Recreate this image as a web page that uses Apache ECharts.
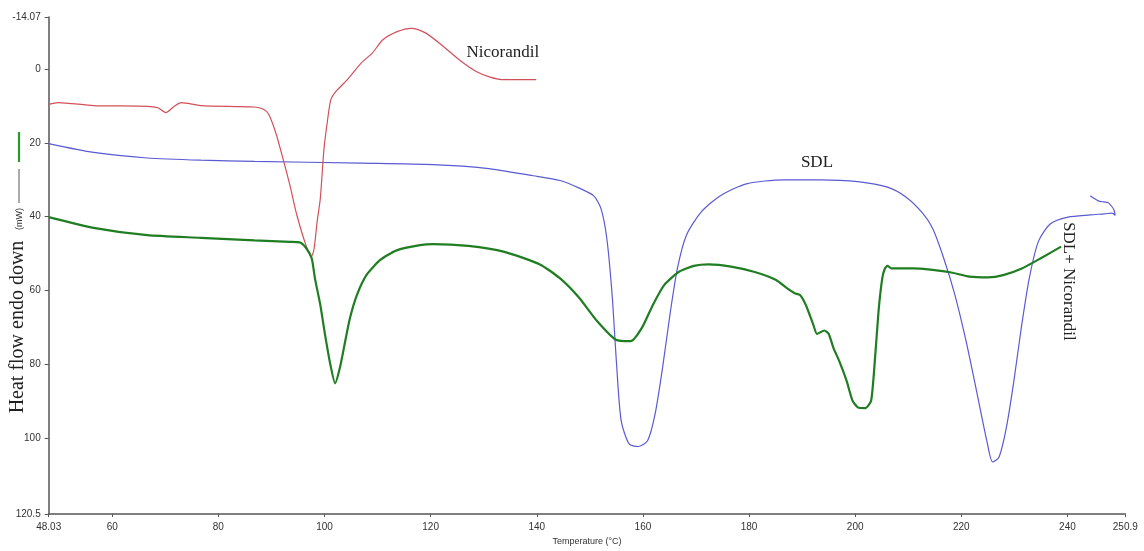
<!DOCTYPE html>
<html>
<head>
<meta charset="utf-8">
<title>DSC thermograms</title>
<script src="https://cdn.jsdelivr.net/npm/echarts@6/dist/echarts.min.js"></script>
<style>
  html, body { margin: 0; padding: 0; background: #fff; }
  #chart { width: 1144px; height: 551px; }
</style>
</head>
<body>
<div id="chart"></div>
<script>
// Axis tick positions (temperature in °C, heat flow in mW)
const xTicks = [48.03, 60, 80, 100, 120, 140, 160, 180, 200, 220, 240, 250.9];
const yTicks = [-14.07, 0, 20, 40, 60, 80, 100, 120.5];

// Nicorandil trace
const nicoTemp = [48.03, 49.8, 56.5, 66.6, 68.6, 70.1, 71.6, 73.0, 76.7, 86.8, 88.5, 89.5, 90.8, 92.2, 93.5, 94.8, 96.5, 97.5, 98.0, 98.6, 99.2, 99.9, 100.6, 101.2, 102.2, 104.3, 106.9, 109.0, 111.0, 113.7, 116.4, 119.1, 122.4, 125.8, 128.5, 131.2, 133.9, 139.9];
const nicoFlow = [9.6, 9.1, 9.9, 10.1, 10.5, 11.8, 10.2, 9.1, 9.9, 10.3, 10.9, 12.3, 17.2, 24.4, 31.6, 39.6, 47.7, 50.8, 49.0, 41.5, 35.2, 21.7, 13.6, 8.3, 6.0, 2.9, -1.6, -4.3, -7.9, -10.1, -11.0, -9.7, -6.1, -2.0, 0.6, 2.2, 2.9, 2.9];

// SDL trace (ends with a short return sweep)
const sdlTemp = [48.03, 56.5, 66.6, 76.7, 86.8, 106.9, 120.4, 130.5, 139.3, 144.4, 147.9, 150.7, 152.1, 153.2, 154.2, 155.0, 155.9, 157.4, 159.1, 160.9, 162.3, 163.7, 165.1, 166.5, 168.2, 171.0, 174.6, 179.5, 186.5, 193.5, 200.5, 206.1, 209.6, 212.5, 214.6, 216.7, 218.8, 220.9, 223.0, 224.8, 225.9, 227.1, 228.5, 229.9, 231.3, 232.8, 234.5, 236.8, 240.1, 244.3, 247.0, 248.4, 249.0, 248.8, 248.4, 247.7, 246.8, 245.8, 244.9, 244.3];
const sdlFlow = [20.2, 22.6, 24.1, 24.7, 25.0, 25.5, 25.9, 26.9, 28.9, 30.2, 32.2, 34.3, 37.8, 45.9, 61.2, 79.1, 95.2, 101.5, 102.2, 100.6, 93.4, 80.9, 66.5, 54.0, 45.0, 38.7, 34.3, 31.1, 30.0, 30.0, 30.5, 32.0, 34.7, 38.7, 43.2, 51.3, 61.2, 73.7, 88.1, 100.6, 106.4, 105.1, 97.0, 84.5, 70.1, 56.7, 46.8, 41.9, 40.1, 39.5, 39.2, 39.0, 39.6, 38.3, 37.3, 36.2, 36.0, 35.7, 34.9, 34.3];

// SDL + Nicorandil mixture trace
const mixTemp = [48.03, 56.5, 66.6, 76.7, 86.8, 93.5, 95.4, 96.6, 97.6, 98.2, 99.2, 100.1, 101.1, 102.0, 102.9, 103.9, 104.8, 106.1, 107.9, 110.5, 113.6, 118.0, 120.4, 127.1, 133.9, 140.6, 144.4, 147.9, 151.4, 154.9, 157.7, 159.8, 161.9, 164.0, 166.8, 169.6, 172.4, 176.6, 180.9, 185.1, 187.2, 188.6, 189.6, 190.7, 192.1, 192.8, 194.2, 195.0, 195.9, 197.0, 198.4, 199.5, 200.5, 201.9, 203.0, 203.7, 204.4, 205.1, 205.6, 206.1, 206.8, 211.0, 218.1, 221.5, 225.0, 227.9, 231.4, 234.9, 238.8];
const mixFlow = [40.1, 43.0, 45.0, 45.7, 46.4, 46.8, 47.0, 48.6, 51.3, 56.7, 63.8, 71.9, 80.0, 85.1, 80.9, 73.7, 67.4, 61.2, 55.8, 51.7, 49.1, 47.7, 47.4, 47.9, 49.5, 52.9, 56.7, 61.8, 68.3, 73.3, 73.7, 70.1, 63.8, 58.5, 54.9, 53.3, 52.9, 53.5, 54.9, 57.1, 59.4, 60.7, 61.2, 63.9, 69.2, 71.7, 70.8, 71.7, 75.5, 79.1, 84.5, 89.8, 91.6, 91.8, 89.8, 79.1, 65.6, 56.7, 54.0, 53.3, 54.0, 54.0, 55.1, 56.2, 56.4, 55.8, 54.0, 51.3, 48.1];

// Curve name labels, anchored in data coordinates [temperature, heat flow]
const curveLabels = [
  { text: 'Nicorandil', at: [133.6, -4.4], rotate: 0 },
  { text: 'SDL', at: [192.8, 25.3], rotate: 0 },
  { text: 'SDL+ Nicorandil', at: [240.2, 57.5], rotate: -Math.PI / 2 }
];

const zip = (xs, ys) => xs.map((x, i) => [x, ys[i]]);

const axisGrey = '#555';
const sans = '"Liberation Sans", Arial, sans-serif';
const serif = '"Liberation Serif", "Times New Roman", serif';

const chart = echarts.init(document.getElementById('chart'), null, { renderer: 'canvas' });

chart.setOption({
  animation: false,
  backgroundColor: '#ffffff',
  grid: { left: 48.7, right: 18.7, top: 17, bottom: 33.7 },
  xAxis: {
    type: 'value',
    position: 'bottom',
    min: 48.03,
    max: 250.9,
    name: 'Temperature (°C)',
    nameLocation: 'middle',
    nameGap: 19,
    nameTextStyle: { fontFamily: sans, fontSize: 9, color: '#333' },
    axisLine: { onZero: false, lineStyle: { color: axisGrey, width: 1.5 } },
    axisTick: { customValues: xTicks, length: 3, lineStyle: { color: axisGrey } },
    axisLabel: { customValues: xTicks, fontFamily: sans, fontSize: 10, color: '#333', margin: 8,
                 formatter: v => String(v) },
    splitLine: { show: false }
  },
  yAxis: {
    type: 'value',
    inverse: true,
    min: -14.07,
    max: 120.5,
    axisLine: { show: true, onZero: false, lineStyle: { color: axisGrey, width: 1.5 } },
    axisTick: { show: true, customValues: yTicks, length: 4, lineStyle: { color: axisGrey } },
    axisLabel: { customValues: yTicks, fontFamily: sans, fontSize: 10, color: '#333', margin: 8,
                 formatter: v => String(v) },
    splitLine: { show: false }
  },
  series: [
    { name: 'Nicorandil', type: 'line', data: zip(nicoTemp, nicoFlow), showSymbol: false, smooth: 0.25,
      lineStyle: { color: '#d2505a', width: 1.2 }, z: 3 },
    { name: 'SDL', type: 'line', data: zip(sdlTemp, sdlFlow), showSymbol: false, smooth: 0.25,
      lineStyle: { color: '#5a5ad2', width: 1.2 }, z: 2 },
    { name: 'SDL+ Nicorandil', type: 'line', data: zip(mixTemp, mixFlow), showSymbol: false, smooth: 0.2,
      lineStyle: { color: '#1f7d22', width: 2.2 }, z: 4 }
  ]
});

// Y-axis title block: colour key, units and caption
const titleParts = [
  { type: 'line', shape: { x1: 19, y1: 132, x2: 19, y2: 162 }, style: { stroke: '#2a9a2a', lineWidth: 2.2 } },
  { type: 'line', shape: { x1: 19, y1: 169, x2: 19, y2: 203 }, style: { stroke: '#555', lineWidth: 1 } },
  { type: 'text', x: 20, y: 219, rotation: Math.PI / 2,
    style: { text: '(mW)', font: '9px ' + sans, fill: '#333', align: 'center', verticalAlign: 'middle' } },
  { type: 'text', x: 18, y: 327, rotation: Math.PI / 2,
    style: { text: 'Heat flow endo down', font: '20px ' + serif, fill: '#222', align: 'center', verticalAlign: 'middle' } }
];

const nameParts = curveLabels.map(l => {
  const p = chart.convertToPixel({ gridIndex: 0 }, l.at);
  return { type: 'text', x: p[0], y: p[1], rotation: l.rotate,
           style: { text: l.text, font: '17px ' + serif, fill: '#222', align: 'center', verticalAlign: 'middle' } };
});

chart.setOption({ graphic: titleParts.concat(nameParts) });
</script>
</body>
</html>
